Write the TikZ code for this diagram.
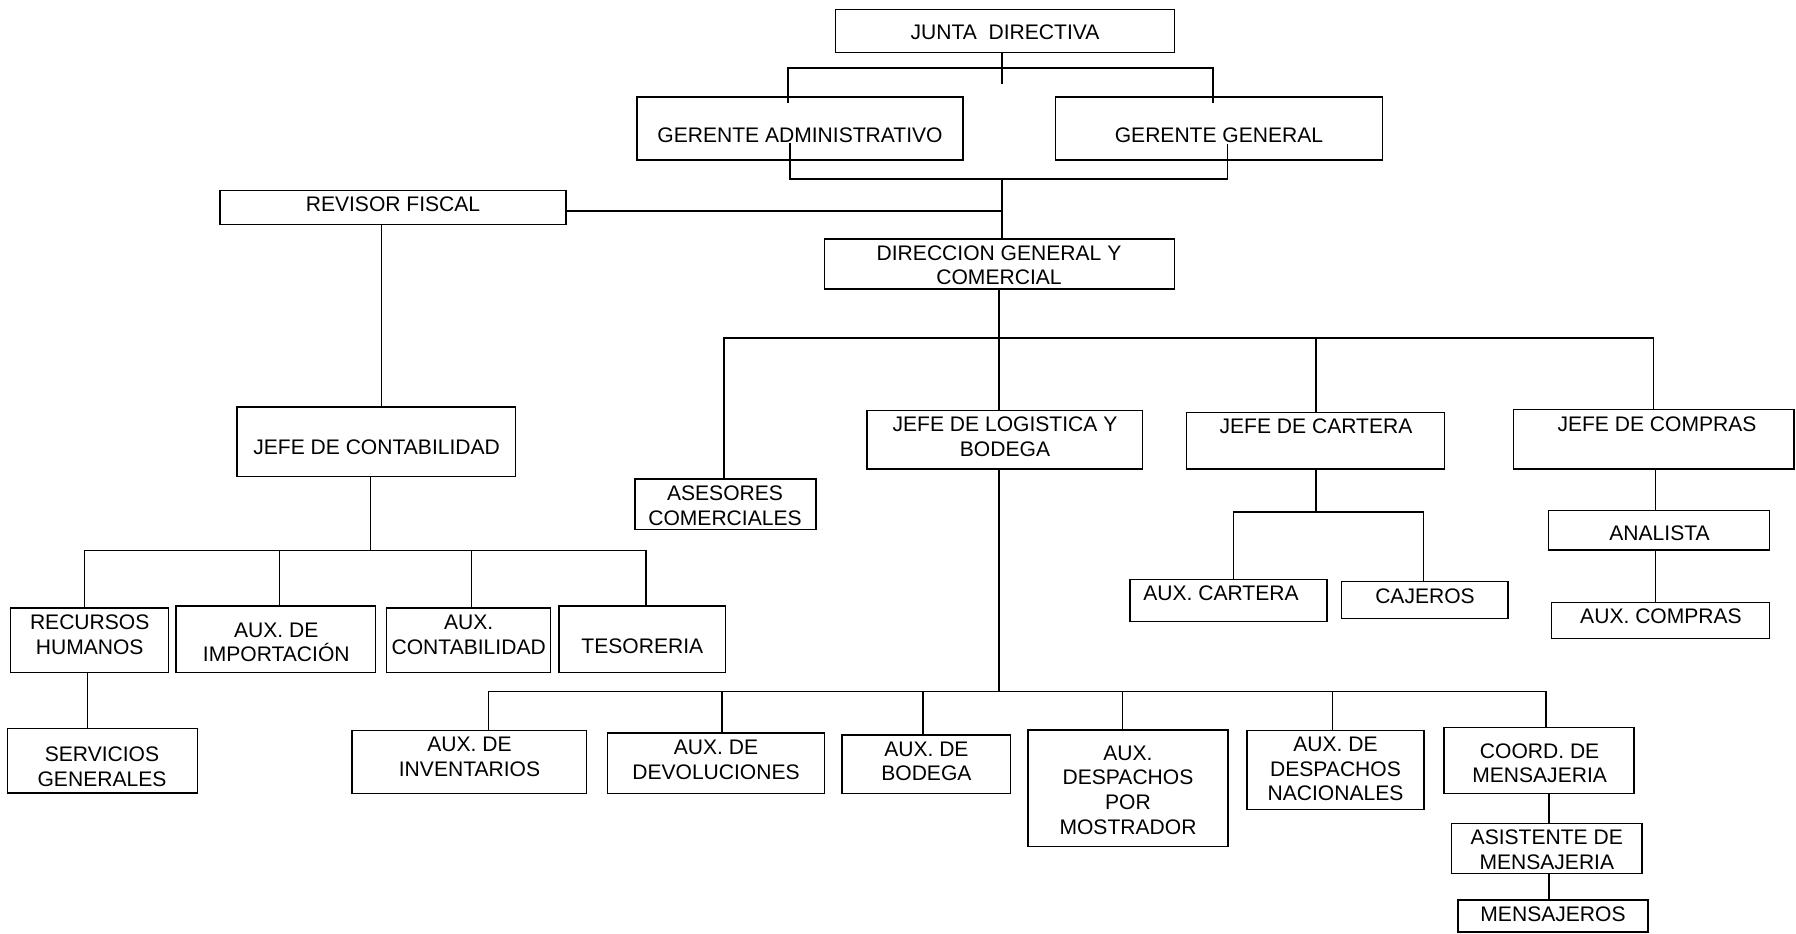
\documentclass[tikz,border=0pt]{standalone}
\usepackage{fontspec}
\setmainfont{Liberation Sans}
\begin{document}
\begin{tikzpicture}[x=0.75pt,y=-0.75pt,
  box/.style={draw,line width=1.1pt,inner sep=0pt,outer sep=0pt},
  txt/.style={inner sep=0pt,align=center,anchor=base,font=\fontsize{15.8}{18.4}\selectfont},
  conn/.style={line width=0.95pt}]
\newcommand{\bx}[5]{\node[box,minimum width={(#4-#2)*0.75pt},minimum height={(#5-#3)*0.75pt}] (#1) at ({(#2+#4)/2},{(#3+#5)/2}) {};}
\useasboundingbox[fill=white] (0,0) rectangle (1796,934);
% boxes
\bx{junta}{835.7}{9.3}{1174.5}{52.7}
\bx{ga}{637}{97}{963}{160}
\bx{gg}{1055.6}{97}{1382.7}{160}
\bx{revisor}{220}{190.3}{566}{224.7}
\bx{dir}{824.5}{239}{1174.5}{289}
\bx{jcont}{237}{407}{515.7}{476.6}
\bx{ases}{634.8}{479}{815.8}{529.7}
\bx{jlog}{867}{410.7}{1142.7}{469}
\bx{jcart}{1186.3}{412.7}{1444.6}{469}
\bx{jcomp}{1513.4}{409.7}{1794}{469}
\bx{anal}{1548.4}{510.7}{1769.7}{550}
\bx{auxcomp}{1551.7}{602.3}{1769.7}{638.3}
\bx{auxcart}{1130}{579.3}{1327.2}{621.7}
\bx{caj}{1341.6}{581.7}{1508}{618.3}
\bx{rh}{10.7}{607.8}{168.7}{672.3}
\bx{auximp}{176}{605.9}{375.7}{672.3}
\bx{auxcont}{386.3}{607.8}{550.7}{672.3}
\bx{teso}{559}{605.9}{725.6}{672.3}
\bx{serv}{7.3}{728.4}{197.3}{793}
\bx{auxinv}{351.8}{730.3}{586.6}{793.3}
\bx{auxdev}{607.3}{733}{824.3}{793.3}
\bx{auxbod}{842}{735}{1010.3}{793.3}
\bx{auxmost}{1028}{730}{1227.8}{846.7}
\bx{auxnac}{1247}{730.3}{1423.9}{809.3}
\bx{coord}{1444}{727.7}{1634}{793.3}
\bx{asis}{1451.6}{823.3}{1642}{873.3}
\bx{mens}{1458}{900}{1648}{932}
% texts (anchor = baseline of the last line)
\node[txt] (juntat) at (1005,39.3) {JUNTA\ \ DIRECTIVA};
\node[txt] (gat) at (800,142.3) {GERENTE ADMINISTRATIVO};
\node[txt] (ggt) at (1219,142.3) {GERENTE GENERAL};
\node[txt] (revisort) at (393,211.6) {REVISOR FISCAL};
\node[txt] (dirt) at (999,285) {DIRECCION GENERAL Y\\COMERCIAL};
\node[txt] (jcontt) at (376.6,454) {JEFE DE CONTABILIDAD};
\node[txt] (asest) at (725,525) {ASESORES\\COMERCIALES};
\node[txt] (jlogt) at (1005,456) {JEFE DE LOGISTICA Y\\BODEGA};
\node[txt] (jcartt) at (1316,433.3) {JEFE DE CARTERA};
\node[txt] (jcompt) at (1657,431) {JEFE DE COMPRAS};
\node[txt] (analt) at (1659.5,540) {ANALISTA};
\node[txt] (auxcompt) at (1661,623.3) {AUX. COMPRAS};
\node[txt] (auxcartt) at (1221,600) {AUX. CARTERA};
\node[txt] (cajt) at (1425,603.3) {CAJEROS};
\node[txt] (rht) at (89.7,654.5) {RECURSOS\\HUMANOS};
\node[txt] (auximpt) at (276.3,661.6) {AUX. DE\\IMPORTACIÓN};
\node[txt] (auxcontt) at (468.7,654.5) {AUX.\\CONTABILIDAD};
\node[txt] (tesot) at (642.3,653.3) {TESORERIA};
\node[txt] (servt) at (102,786) {SERVICIOS\\GENERALES};
\node[txt] (auxinvt) at (469.5,776) {AUX. DE\\INVENTARIOS};
\node[txt] (auxdevt) at (716,779.3) {AUX. DE\\DEVOLUCIONES};
\node[txt] (auxbodt) at (926.4,780.7) {AUX. DE\\BODEGA};
\node[txt] (auxmostt) at (1128,834) {AUX.\\DESPACHOS\\POR\\MOSTRADOR};
\node[txt] (auxnact) at (1335.5,800.7) {AUX. DE\\DESPACHOS\\NACIONALES};
\node[txt] (coordt) at (1539.6,782.7) {COORD. DE\\MENSAJERIA};
\node[txt] (asist) at (1546.8,869) {ASISTENTE DE\\MENSAJERIA};
\node[txt] (menst) at (1553,921.7) {MENSAJEROS};
% connectors: junta
\coordinate (jstub) at (1002,84);
\coordinate (jl) at (788,68);
\coordinate (jr) at (1213,68);
\draw[conn] (junta.south -| jstub) -- (jstub);
\draw[conn] ([yshift=-4.5pt]ga.north -| jl) |- (jr) -- ([yshift=-4.5pt]gg.north -| jr);
% gerentes to direccion
\coordinate (gl) at (790,179);
\coordinate (gr) at (1227.5,179);
\coordinate (gc) at (1002,179);
\coordinate (rv) at (1002,211);
\draw[conn] ([yshift=12.75pt]ga.south -| gl) -- (gl) -- (gr) -- ([yshift=12pt]gg.south -| gr);
\draw[conn] (gc) -- (dir.north -| gc);
\draw[conn] (revisor.east |- rv) -- (rv);
% revisor to contabilidad
\coordinate (rx) at (381.5,0);
\draw[conn] (revisor.south -| rx) -- (jcont.north -| rx);
% direccion tree
\coordinate (db) at (999,338);
\coordinate (dl) at (724,338);
\coordinate (dc) at (1316,338);
\coordinate (dr) at (1653.5,338);
\draw[conn] (dir.south -| db) -- (db);
\draw[conn] (ases.north -| dl) |- (dr) -- (jcomp.north -| dr);
\draw[conn] (db) -- (jlog.north -| db);
\draw[conn] (dc) -- (jcart.north -| dc);
% contabilidad tree
\coordinate (cb) at (370.8,550.5);
\coordinate (cl) at (84.8,550.5);
\coordinate (c2) at (279.2,550.5);
\coordinate (c3) at (471.2,550.5);
\coordinate (cr) at (646,550.5);
\draw[conn] (jcont.south -| cb) -- (cb);
\draw[conn] (rh.north -| cl) |- (cr) -- (teso.north -| cr);
\draw[conn] (c2) -- (auximp.north -| c2);
\draw[conn] (c3) -- (auxcont.north -| c3);
\coordinate (rx2) at (87.7,0);
\draw[conn] (rh.south -| rx2) -- (serv.north -| rx2);
% logistica tree
\coordinate (lb) at (999,691.7);
\coordinate (l1) at (488.4,691.7);
\coordinate (l2) at (722,691.7);
\coordinate (l3) at (923,691.7);
\coordinate (l4) at (1122.2,691.7);
\coordinate (l5) at (1332.3,691.7);
\coordinate (l6) at (1545.9,691.7);
\draw[conn] (jlog.south -| lb) -- (lb);
\draw[conn] (auxinv.north -| l1) |- (l6) -- (coord.north -| l6);
\draw[conn] (l2) -- (auxdev.north -| l2);
\draw[conn] (l3) -- (auxbod.north -| l3);
\draw[conn] (l4) -- (auxmost.north -| l4);
\draw[conn] (l5) -- (auxnac.north -| l5);
\coordinate (mx) at (1549,0);
\draw[conn] (coord.south -| mx) -- (asis.north -| mx);
\draw[conn] (asis.south -| mx) -- (mens.north -| mx);
% cartera tree
\coordinate (kb) at (1316,512);
\coordinate (kl) at (1233.6,512);
\coordinate (kr) at (1423.2,512);
\draw[conn] (jcart.south -| kb) -- (kb);
\draw[conn] (auxcart.north -| kl) |- (kr) -- (caj.north -| kr);
% compras chain
\coordinate (px) at (1655.6,0);
\draw[conn] (jcomp.south -| px) -- (anal.north -| px);
\draw[conn] (anal.south -| px) -- (auxcomp.north -| px);
\end{tikzpicture}
\end{document}
